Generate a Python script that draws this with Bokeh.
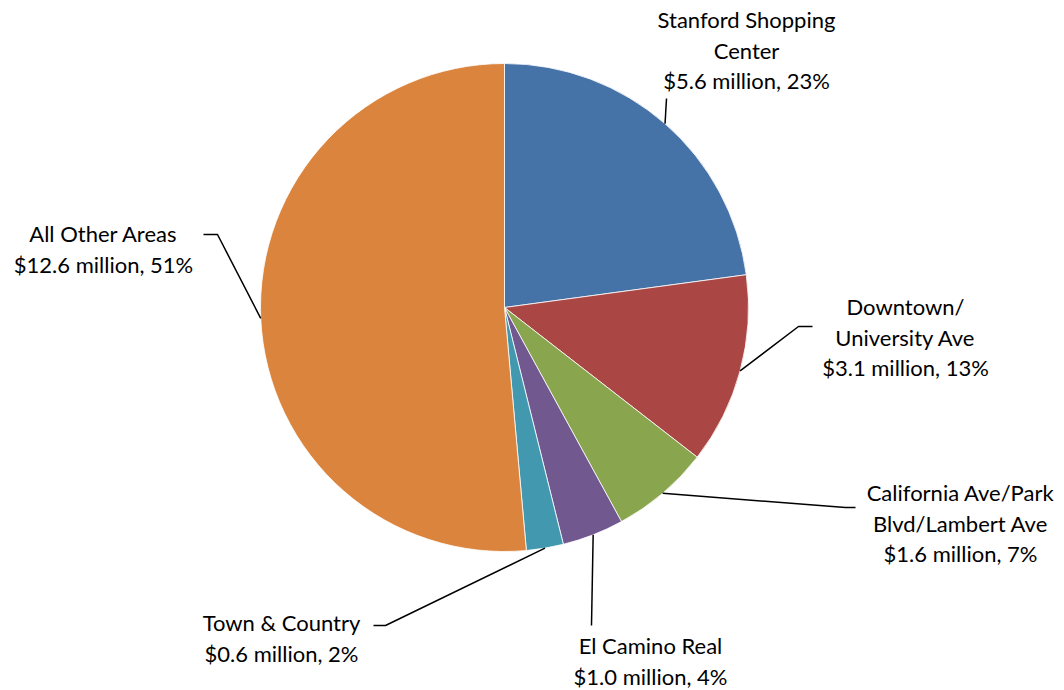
import math
from bokeh.plotting import figure
from bokeh.models import Range1d
from bokeh.core.properties import value
from bokeh.embed import file_html
from bokeh.resources import INLINE

# ---- data ----
categories = ["Stanford Shopping Center", "Downtown/ University Ave",
              "California Ave/Park Blvd/Lambert Ave", "El Camino Real",
              "Town & Country", "All Other Areas"]
revenue_millions = [5.6, 3.1, 1.6, 1.0, 0.6, 12.6]
label_lines = [
    ["Stanford Shopping", "Center"],
    ["Downtown/", "University Ave"],
    ["California Ave/Park", "Blvd/Lambert Ave"],
    ["El Camino Real"],
    ["Town & Country"],
    ["All Other Areas"],
]
colors = ["#4572A7", "#AA4643", "#89A54E", "#71588F", "#4198AF", "#DB843D"]

# ---- layout (pixel coordinates, y from top) ----
W, H = 1064, 690
CX, CY, R = 504, 307, 244
FONT = "Lato"
FS = "22px"
LINE_H = 30.5
# label block: (center x, first line y)
label_pos = [(746, 19), (905, 306), (960, 492), (650, 645), (281, 622), (103, 233)]
# leader line path after the slice edge point: list of (x, y)
leader_path = [
    [(666, 98)],
    [(798, 326), (812, 326)],
    [(845, 507), (855, 507)],
    [(591, 625)],
    [(385, 625), (373, 625)],
    [(217, 234), (203, 234)],
]

def fy(y):
    return H - y

p = figure(width=W, height=H, output_backend="svg", toolbar_location=None,
           x_range=Range1d(0, W), y_range=Range1d(0, H), min_border=0)
p.axis.visible = False
p.grid.visible = False
p.outline_line_color = None
p.background_fill_color = "white"
p.border_fill_color = "white"

total = sum(revenue_millions)
cum = 0.0
starts, ends, mids = [], [], []
for v in revenue_millions:
    a0 = cum / total
    cum += v
    a1 = cum / total
    starts.append(math.pi / 2 - 2 * math.pi * a0)
    ends.append(math.pi / 2 - 2 * math.pi * a1)
    mids.append((a0 + a1) / 2)

p.wedge(x=[CX] * len(revenue_millions), y=[fy(CY)] * len(revenue_millions), radius=R,
        start_angle=starts, end_angle=ends, direction="clock",
        fill_color=colors, line_color="white", line_width=0.8)

for i, v in enumerate(revenue_millions):
    frac = mids[i]
    ang = 2 * math.pi * frac
    ex = CX + R * math.sin(ang)
    ey = CY - R * math.cos(ang)
    pts = [(ex, ey)] + leader_path[i]
    p.line([q[0] for q in pts], [fy(q[1]) for q in pts], line_color="black", line_width=1.5)

    pct = round(100 * v / total)
    lines = label_lines[i] + [f"${v:.1f} million, {pct}%"]
    lx, ly = label_pos[i]
    p.text(x=[lx] * len(lines), y=[fy(ly + k * LINE_H) for k in range(len(lines))],
           text=lines, text_align="center", text_baseline="middle",
           text_font=value(FONT), text_font_size=FS, text_color="#000000")

open("out.html", "w").write(file_html(p, INLINE))
